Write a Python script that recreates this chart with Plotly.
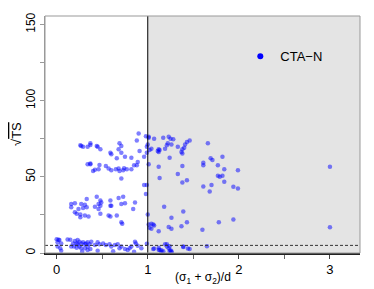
import plotly.graph_objects as go

# data: (sigma1+sigma2)/d and sqrt(TS)
x_vals = [
    0.90, 0.88, 0.98, 1.01, 0.26, 0.27, 0.29, 0.34, 0.37, 0.37, 0.44, 0.45, 0.48,
    0.69, 0.71, 0.68, 0.71, 0.59, 0.60, 0.75, 0.66, 0.82, 0.91, 0.96, 0.99,
    0.34, 0.37, 0.37, 0.40, 0.42, 0.47, 0.46, 0.54, 0.57, 0.60, 0.65, 0.68, 0.69,
    0.73, 0.74, 0.77, 0.82, 0.85, 0.88, 0.89, 0.71, 0.96, 0.99, 0.98,
    0.33, 0.44, 0.48, 0.49, 0.46, 0.48, 0.68, 0.73, 0.71, 0.75, 0.59, 0.59, 0.60,
    0.86, 0.84, 0.16, 0.20, 0.16, 0.27, 0.31, 0.33, 0.29, 0.24, 0.20, 0.22, 0.26,
    0.31, 0.35, 0.26, 0.46, 0.48, 0.57, 0.59, 0.66, 0.71, 0.72, 0.42,
    1.01, 1.07, 1.17, 1.23, 1.25, 1.28, 1.22, 1.26, 1.21, 1.19, 1.13, 1.12, 1.12,
    1.11, 1.04, 1.02, 1.00, 0.99, 1.43, 1.46, 1.41, 1.40, 1.38, 1.33, 1.37, 1.38,
    1.66, 1.24, 1.01, 1.12, 1.38, 1.13, 1.33, 1.38, 1.43, 1.61, 1.61, 1.69, 1.71,
    1.82, 1.77, 1.84, 1.99, 1.77, 1.79, 1.82, 1.84, 1.61, 1.70, 1.68, 1.94, 1.99,
    1.18, 1.00, 1.01, 1.04, 1.06, 1.07, 1.02, 1.04, 1.12, 1.26, 1.23, 1.26, 1.39,
    1.43, 1.37, 1.78, 1.94, 1.60, 0.99, 1.21, 1.24, 1.07, 1.12, 1.15, 1.17, 1.25,
    1.26, 1.39, 1.44, 1.65, 3.00, 3.00,
    0.00, 0.03, 0.01, 0.05, 0.01, 0.04, 0.20, 0.23, 0.25, 0.22, 0.23, 0.27, 0.29,
    0.31, 0.32, 0.34, 0.36, 0.38, 0.19, 0.22, 0.25, 0.27, 0.31, 0.34, 0.34, 0.37,
    0.45, 0.47, 0.51, 0.54, 0.58, 0.60, 0.64, 0.67, 0.71, 0.69, 0.80, 0.82, 0.86,
    0.87, 0.89, 0.75, 0.78, 0.42, 0.18, 0.16,
    1.06, 1.12, 1.13, 1.15, 1.19, 1.21, 1.23, 1.24, 1.26, 1.39, 1.46, 0.93,
    0.02, 0.15, 0.28, 0.45, 0.62, 0.85, 0.12, 0.05,
]
y_vals = [
    78.5, 73.9, 76.7, 75.6, 70.7, 70.2, 69.8, 69.8, 72.0, 70.9, 70.2, 69.8, 68.1,
    72.0, 70.2, 68.1, 65.8, 65.8, 64.8, 63.2, 62.2, 62.6, 67.0, 63.2, 69.8,
    58.3, 58.3, 58.7, 53.9, 54.6, 57.8, 55.0, 57.2, 55.4, 54.4, 55.0, 55.4, 53.9,
    54.4, 55.7, 55.0, 55.0, 57.6, 57.6, 59.8, 48.9, 44.6, 44.6, 38.7,
    35.5, 37.0, 34.4, 33.2, 32.2, 31.1, 36.1, 37.0, 32.2, 32.6, 34.4, 31.1, 31.1,
    33.2, 28.9, 32.2, 32.6, 30.0, 32.2, 31.7, 30.0, 29.6, 28.9, 26.7, 25.7, 25.2,
    24.6, 23.9, 23.5, 28.9, 25.7, 24.6, 23.9, 24.6, 20.2, 19.2, 30.4,
    76.3, 75.0, 75.6, 76.3, 75.0, 74.6, 72.0, 71.3, 70.7, 68.4, 67.6, 68.1, 66.3,
    67.0, 68.4, 67.6, 71.3, 65.8, 72.8, 73.9, 71.3, 69.1, 68.1, 69.8, 66.3, 65.4,
    72.0, 62.6, 58.3, 56.7, 57.2, 49.2, 51.8, 46.3, 47.8, 59.3, 57.6, 62.2, 61.1,
    63.2, 57.6, 55.0, 54.4, 50.7, 50.0, 50.7, 46.7, 43.7, 44.6, 40.4, 43.5, 42.4,
    30.4, 25.2, 18.7, 19.2, 18.7, 18.1, 16.6, 15.9, 14.3, 23.1, 17.0, 15.9, 27.2,
    20.2, 17.6, 20.2, 22.0, 15.3, 6.1, 5.7, 4.4, 2.9, 2.2, 1.8, 1.1, 1.8,
    1.1, 3.9, 2.9, 4.4, 56.7, 16.9,
    9.1, 8.5, 7.0, 6.3, 4.2, 3.1, 7.8, 8.5, 7.4, 6.3, 5.7, 6.3, 7.0,
    5.7, 6.3, 7.0, 5.7, 7.4, 4.2, 3.5, 4.2, 3.1, 3.1, 4.2, 2.0, 2.6,
    7.0, 5.7, 6.3, 5.2, 5.7, 4.2, 5.2, 5.7, 4.2, 3.1, 3.1, 4.2, 7.4,
    6.3, 4.8, 2.6, 2.0, 5.2, 6.3, 4.2,
    2.6, 3.5, 2.0, 0.9, 5.7, 4.2, 3.1, 1.3, 0.5, 4.2, 2.6, 3.1,
    8.7, 8.7, 1.0, 1.5, 1.2, 0.8, 8.9, 1.5,
]

series_name = "CTA\u2212N"
x_tick_vals = [0, 1, 2, 3]
x_tick_text = ["0", "1", "2", "3"]
y_tick_vals = [0, 50, 100, 150]
y_tick_text = ["0", "50", "100", "150"]
x_range = [-0.128, 3.33]
y_range = [0, 155.6]
split_x = 1
ts_threshold = 5

font_family = "Liberation Sans, Arial, sans-serif"

fig = go.Figure()
fig.add_trace(go.Scatter(
    x=x_vals, y=y_vals, mode="markers", showlegend=False,
    marker=dict(size=4.5, color="rgba(0,0,255,0.5)", line=dict(width=0)),
))
fig.add_trace(go.Scatter(
    x=[None], y=[None], mode="markers", name=series_name, showlegend=True,
    marker=dict(size=6, color="#0000ff"),
))

shapes = [
    dict(type="rect", xref="x", yref="y", x0=split_x, x1=x_range[1],
         y0=y_range[0], y1=y_range[1], fillcolor="#e4e4e4",
         line=dict(width=0), layer="below"),
    dict(type="line", xref="x", yref="y", x0=split_x, x1=split_x,
         y0=y_range[0], y1=y_range[1], line=dict(color="#000000", width=1)),
    dict(type="line", xref="x", yref="y", x0=x_range[0], x1=x_range[1],
         y0=ts_threshold, y1=ts_threshold,
         line=dict(color="#333333", width=1, dash="3px,2px")),
    dict(type="rect", xref="paper", yref="paper", x0=0, x1=1, y0=0, y1=1,
         line=dict(color="#999999", width=1)),
]

fig.update_layout(
    width=374, height=289,
    margin=dict(l=45, r=14, t=14, b=36),
    paper_bgcolor="white", plot_bgcolor="white",
    font=dict(family=font_family, size=12, color="#000000"),
    shapes=shapes,
    xaxis=dict(
        range=x_range, tickvals=x_tick_vals, ticktext=x_tick_text,
        showgrid=False, zeroline=False, showline=True, linecolor="#222222",
        linewidth=1.5, ticks="outside", ticklen=4, tickcolor="#444444",
        tickfont=dict(size=13),
        minor=dict(tickvals=[0.5, 1.5, 2.5], ticks="outside", ticklen=4,
                   tickcolor="#666666", showgrid=False),
    ),
    yaxis=dict(
        range=y_range, tickvals=y_tick_vals, ticktext=y_tick_text,
        showgrid=False, zeroline=False, showline=True, linecolor="#999999",
        ticks="outside", ticklen=4, tickcolor="#999999", tickangle=-90,
        tickfont=dict(size=12),
        minor=dict(tickvals=[25, 75, 125], ticks="outside", ticklen=4,
                   tickcolor="#999999", showgrid=False),
    ),
    legend=dict(x=0.62, y=0.83, xanchor="left", yanchor="middle",
                bgcolor="rgba(0,0,0,0)", font=dict(size=13)),
    annotations=[
        dict(text="(σ<sub>1</sub> + σ<sub>2</sub>)/d", xref="paper", yref="paper",
             x=0.5, y=0, yshift=-25, showarrow=False, yanchor="middle",
             font=dict(size=12)),
        dict(text="√<span style='text-decoration:overline'>TS</span>",
             xref="paper", yref="paper", x=0, xshift=-38, y=0.5,
             showarrow=False, textangle=-90, font=dict(size=13)),
    ],
)

fig.write_html("out.html", config={"displayModeBar": False},
               post_script="document.body.style.margin='0';")
